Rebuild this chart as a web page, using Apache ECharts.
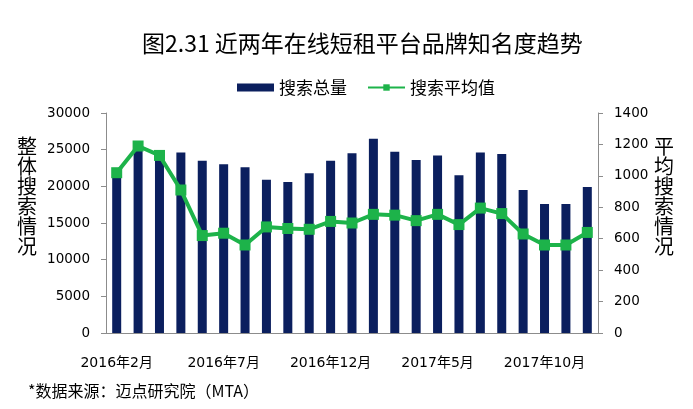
<!DOCTYPE html>
<html>
<head>
<meta charset="utf-8">
<script src="https://cdn.jsdelivr.net/npm/echarts@6/dist/echarts.min.js"></script>
<style>
  html, body { margin: 0; padding: 0; background: #fff; }
  #chart { width: 693px; height: 409px; }
</style>
</head>
<body>
<div id="chart"></div>
<script>
const months = [
  "2016年2月", "2016年3月", "2016年4月", "2016年5月", "2016年6月", "2016年7月",
  "2016年8月", "2016年9月", "2016年10月", "2016年11月", "2016年12月", "2017年1月",
  "2017年2月", "2017年3月", "2017年4月", "2017年5月", "2017年6月", "2017年7月",
  "2017年8月", "2017年9月", "2017年10月", "2017年11月", "2017年12月",
];

// 搜索总量 (left axis)
const totalSearch = [
  21500, 25200, 24500, 24600, 23500, 23000, 22600, 20900, 20600, 21800, 23500, 24500,
  26500, 24700, 23600, 24200, 21500, 24600, 24400, 19500, 17600, 17600, 19900,
];

// 搜索平均值 (right axis)
const avgSearch = [
  1020, 1190, 1130, 910, 620, 635, 560, 675, 665, 660, 710, 700,
  755, 750, 715, 755, 690, 795, 760, 630, 560, 560, 640,
];

const font = "'DejaVu Sans', 'Noto Sans CJK SC', sans-serif";
const cjk = "'Noto Sans CJK SC', sans-serif";
const axisGrey = "#8c8c8c";

const chart = echarts.init(document.getElementById("chart"));
const option = {
  animation: false,
  textStyle: { fontFamily: font, color: "#000" },
  title: {
    text: "图2.31 近两年在线短租平台品牌知名度趋势",
    left: 137,
    top: 27,
    textStyle: { fontFamily: cjk, fontSize: 23, fontWeight: "normal", color: "#000" },
  },
  legend: {
    top: 74,
    left: 232,
    itemWidth: 37,
    itemHeight: 8,
    itemGap: 20,
    textStyle: { fontFamily: cjk, fontSize: 17, color: "#000" },
    data: [
      { name: "搜索总量", icon: "rect" },
      { name: "搜索平均值" },
    ],
  },
  grid: { left: 106, right: 95, top: 113, bottom: 76 },
  xAxis: {
    type: "category",
    data: months,
    axisLine: { lineStyle: { color: axisGrey } },
    axisTick: { interval: 4, length: 5, lineStyle: { color: axisGrey } },
    axisLabel: { interval: 4, fontSize: 14, color: "#000", margin: 23, fontFamily: font },
  },
  yAxis: [
    {
      type: "value",
      min: 0,
      max: 30000,
      interval: 5000,
      splitLine: { show: false },
      axisLine: { show: true, lineStyle: { color: axisGrey } },
      axisTick: { show: true, length: 5, lineStyle: { color: axisGrey } },
      axisLabel: { fontSize: 13.5, color: "#000", margin: 16, formatter: (v) => String(v) },
    },
    {
      type: "value",
      min: 0,
      max: 1400,
      interval: 200,
      splitLine: { show: false },
      axisLine: { show: true, lineStyle: { color: axisGrey } },
      axisTick: { show: true, length: 5, lineStyle: { color: axisGrey } },
      axisLabel: { fontSize: 13.5, color: "#000", margin: 16, formatter: (v) => String(v) },
    },
  ],
  series: [
    {
      name: "搜索总量",
      type: "bar",
      yAxisIndex: 0,
      data: totalSearch,
      barWidth: 9,
      itemStyle: { color: "#0b1f5e" },
    },
    {
      name: "搜索平均值",
      type: "line",
      yAxisIndex: 1,
      data: avgSearch,
      symbol: "rect",
      symbolSize: 11,
      lineStyle: { color: "#1db34a", width: 4 },
      itemStyle: { color: "#1db34a" },
    },
  ],
  graphic: [
    {
      type: "text",
      left: 17,
      top: 136,
      style: {
        text: "整\n体\n搜\n索\n情\n况",
        font: "20px " + cjk,
        lineHeight: 20,
        fill: "#000",
      },
    },
    {
      type: "text",
      left: 654,
      top: 136,
      style: {
        text: "平\n均\n搜\n索\n情\n况",
        font: "20px " + cjk,
        lineHeight: 20,
        fill: "#000",
      },
    },
    {
      type: "text",
      left: 28,
      top: 383,
      style: {
        text: "*数据来源：迈点研究院（MTA）",
        font: "16px " + cjk,
        fill: "#000",
      },
    },
  ],
};
chart.setOption(option);
</script>
</body>
</html>
